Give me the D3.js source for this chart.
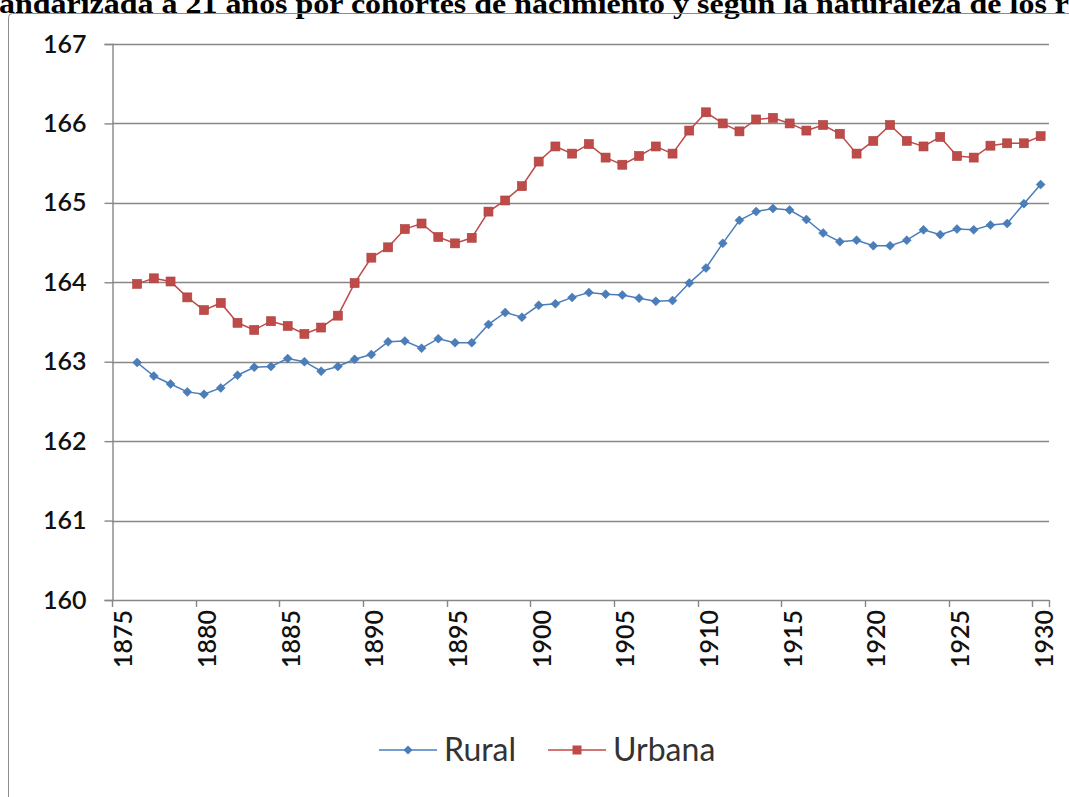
<!DOCTYPE html>
<html>
<head>
<meta charset="utf-8">
<script src="https://cdn.jsdelivr.net/npm/d3@7"></script>
<style>
  body { margin: 0; background: #fff; }
  svg { display: block; }
</style>
</head>
<body>
<svg id="svg"></svg>
<script>
// data
let categories = [1875, 1876, 1877, 1878, 1879, 1880, 1881, 1882, 1883, 1884,
  1885, 1886, 1887, 1888, 1889, 1890, 1891, 1892, 1893, 1894,
  1895, 1896, 1897, 1898, 1899, 1900, 1901, 1902, 1903, 1904,
  1905, 1906, 1907, 1908, 1909, 1910, 1911, 1912, 1913, 1914,
  1915, 1916, 1917, 1918, 1919, 1920, 1921, 1922, 1923, 1924,
  1925, 1926, 1927, 1928, 1929, 1930];

// 1876 .. 1930
let rural = [162.99, 162.82, 162.72, 162.62, 162.59, 162.67, 162.83, 162.93, 162.94, 163.04,
  163.00, 162.88, 162.94, 163.03, 163.09, 163.25, 163.26, 163.17, 163.29, 163.24,
  163.24, 163.47, 163.62, 163.56, 163.71, 163.73, 163.81, 163.87, 163.85, 163.84,
  163.80, 163.76, 163.77, 163.99, 164.18, 164.49, 164.78, 164.89, 164.93, 164.91,
  164.79, 164.62, 164.51, 164.53, 164.46, 164.46, 164.53, 164.66, 164.60, 164.67,
  164.66, 164.72, 164.74, 164.99, 165.23];

let urbana = [163.98, 164.05, 164.01, 163.81, 163.65, 163.74, 163.49, 163.40, 163.51, 163.45,
  163.35, 163.43, 163.58, 163.99, 164.31, 164.44, 164.67, 164.74, 164.57, 164.49,
  164.56, 164.89, 165.03, 165.21, 165.52, 165.71, 165.62, 165.74, 165.57, 165.48,
  165.59, 165.71, 165.62, 165.91, 166.14, 166.00, 165.90, 166.05, 166.07, 166.00,
  165.91, 165.98, 165.87, 165.62, 165.78, 165.98, 165.78, 165.71, 165.83, 165.59,
  165.57, 165.72, 165.75, 165.75, 165.84];

let yTicks = [160, 161, 162, 163, 164, 165, 166, 167];
let labelYears = [1875, 1880, 1885, 1890, 1895, 1900, 1905, 1910, 1915, 1920, 1925, 1930];
let seriesNames = ["Rural", "Urbana"];

let titleText = "andarizada a 21 años por cohortes de nacimiento y según la naturaleza de los r";

// layout
let width = 1069;
let height = 797;
let plotLeft = 112, plotRight = 1049, plotTop = 44, plotBottom = 600;
let gridColor = "#878787";
let ruralColor = "#4a7ebb";
let urbanaColor = "#be4b48";
let labelFont = "Lato, 'Open Sans', sans-serif";

let svg = d3.select("#svg").attr("width", width).attr("height", height);

// title (cut off by the picture edges, as in the source)
svg.append("text")
  .attr("x", -1)
  .attr("y", 13)
  .attr("font-family", "'Liberation Serif', 'Times New Roman', serif")
  .attr("font-weight", "bold")
  .attr("font-size", 27)
  .attr("textLength", 1070)
  .attr("lengthAdjust", "spacingAndGlyphs")
  .attr("fill", "#000")
  .text(titleText);

// chart frame
svg.append("rect")
  .attr("x", 8.5).attr("y", 13.5)
  .attr("width", 1080).attr("height", 800)
  .attr("rx", 4)
  .attr("fill", "none")
  .attr("stroke", "#8c8c8c")
  .attr("stroke-width", 1);

// scales
let xScale = d3.scaleBand().domain(categories).range([plotLeft, plotRight]).padding(0);
let yScale = d3.scaleLinear().domain([160, 167]).range([plotBottom, plotTop]);
let cx = (c) => xScale(c) + xScale.bandwidth() / 2;

// gridlines
svg.append("g")
  .selectAll("line")
  .data(yTicks)
  .enter()
  .append("line")
  .attr("x1", plotLeft).attr("x2", plotRight)
  .attr("y1", (d) => Math.round(yScale(d)) + 0.5)
  .attr("y2", (d) => Math.round(yScale(d)) + 0.5)
  .attr("stroke", gridColor)
  .attr("stroke-width", 1.4);

// y axis
let yAxis = d3.axisLeft(yScale).tickValues(yTicks).tickSize(8).tickPadding(18).tickFormat(d3.format("d"));
let yG = svg.append("g")
  .attr("transform", "translate(" + (plotLeft + 0.5) + ",0)")
  .call(yAxis);
yG.select(".domain").attr("stroke", gridColor).attr("stroke-width", 1.4);
yG.selectAll(".tick line").attr("stroke", gridColor).attr("stroke-width", 1.4);
yG.selectAll(".tick text")
  .attr("font-family", labelFont)
  .attr("font-size", 25)
  .attr("font-weight", 600)
  .attr("fill", "#111");

// x axis tick marks every 5 categories, on band edges
let tickEdges = categories.filter((d, i) => i % 5 === 0).map((d) => xScale(d)).concat([plotRight]);
svg.append("g")
  .selectAll("line")
  .data(tickEdges)
  .enter()
  .append("line")
  .attr("x1", (d) => Math.round(d) + 0.5).attr("x2", (d) => Math.round(d) + 0.5)
  .attr("y1", plotBottom).attr("y2", plotBottom + 7)
  .attr("stroke", gridColor)
  .attr("stroke-width", 1.4);

// x labels
let xAxis = d3.axisBottom(xScale).tickValues(labelYears).tickSize(0).tickPadding(0);
let xG = svg.append("g")
  .attr("transform", "translate(0," + plotBottom + ")")
  .call(xAxis);
xG.select(".domain").remove();
xG.selectAll(".tick text")
  .attr("font-family", labelFont)
  .attr("font-size", 25)
  .attr("font-weight", 600)
  .attr("fill", "#111")
  .attr("text-anchor", "end")
  .attr("dy", null)
  .attr("y", 0)
  .attr("transform", "translate(12,10) rotate(-90)");

// lines
let line = d3.line()
  .x((d, i) => cx(categories[i + 1]))
  .y((d) => yScale(d));

svg.append("path")
  .datum(rural)
  .attr("d", line)
  .attr("fill", "none")
  .attr("stroke", ruralColor)
  .attr("stroke-width", 1.5);

svg.append("path")
  .datum(urbana)
  .attr("d", line)
  .attr("fill", "none")
  .attr("stroke", urbanaColor)
  .attr("stroke-width", 1.5);

// markers
let diamond = (x, y, r) => "M" + x + "," + (y - r) + "L" + (x + r) + "," + y + "L" + x + "," + (y + r) + "L" + (x - r) + "," + y + "Z";

svg.append("g")
  .selectAll("path")
  .data(rural)
  .enter()
  .append("path")
  .attr("d", (d, i) => diamond(cx(categories[i + 1]), yScale(d), 4.5))
  .attr("fill", ruralColor)
  .attr("stroke", "#4170aa")
  .attr("stroke-width", 0.5);

svg.append("g")
  .selectAll("rect")
  .data(urbana)
  .enter()
  .append("rect")
  .attr("x", (d, i) => cx(categories[i + 1]) - 4.5)
  .attr("y", (d) => yScale(d) - 4.5)
  .attr("width", 9)
  .attr("height", 9)
  .attr("fill", urbanaColor)
  .attr("stroke", "#a8403d")
  .attr("stroke-width", 0.6);

// legend
let legendY = 750;
let legendItems = [
  { name: seriesNames[0], x: 379, color: ruralColor, marker: "diamond" },
  { name: seriesNames[1], x: 548, color: urbanaColor, marker: "square" }
];
let lg = svg.append("g");
legendItems.forEach((it) => {
  lg.append("line")
    .attr("x1", it.x).attr("x2", it.x + 58)
    .attr("y1", legendY).attr("y2", legendY)
    .attr("stroke", it.color).attr("stroke-width", 1.5);
  if (it.marker === "diamond") {
    lg.append("path").attr("d", diamond(it.x + 29, legendY, 4.5)).attr("fill", it.color);
  } else {
    lg.append("rect").attr("x", it.x + 24.5).attr("y", legendY - 4.5)
      .attr("width", 9).attr("height", 9).attr("fill", it.color);
  }
  lg.append("text")
    .attr("x", it.x + 65)
    .attr("y", legendY + 11)
    .attr("font-family", labelFont)
    .attr("font-size", 32)
    .attr("fill", "#333")
    .text(it.name);
});
</script>
</body>
</html>
